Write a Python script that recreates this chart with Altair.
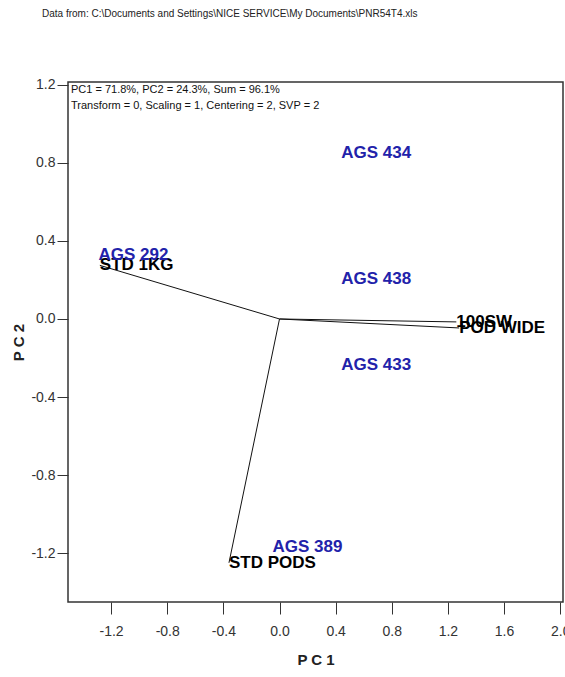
import altair as alt
import pandas as pd

# Genotype scores (blue labels)
genotypes = ["AGS 434", "AGS 438", "AGS 433", "AGS 389", "AGS 292"]
geno_pc1 = [0.44, 0.44, 0.44, -0.05, -1.29]
geno_pc2 = [0.85, 0.205, -0.236, -1.167, 0.328]

# Trait vectors (black labels, drawn from the origin)
traits = ["STD 1KG", "STD PODS", "100SW", "POD WIDE"]
trait_pc1 = [-1.28, -0.36, 1.26, 1.28]
trait_pc2 = [0.275, -1.25, -0.015, -0.046]

x_ticks = [-1.2, -0.8, -0.4, 0.0, 0.4, 0.8, 1.2, 1.6, 2.0]
y_ticks = [-1.2, -0.8, -0.4, 0.0, 0.4, 0.8, 1.2]

source_note = "Data from: C:\\Documents and Settings\\NICE SERVICE\\My Documents\\PNR54T4.xls"
info_lines = [
    "PC1 = 71.8%, PC2 = 24.3%, Sum = 96.1%",
    "Transform = 0, Scaling = 1, Centering = 2, SVP = 2",
]

FONT = "Liberation Sans, Arial, sans-serif"

geno_df = pd.DataFrame({"label": genotypes, "pc1": geno_pc1, "pc2": geno_pc2})
trait_df = pd.DataFrame({"label": traits, "pc1": trait_pc1, "pc2": trait_pc2,
                         "o1": 0.0, "o2": 0.0})

xdom = [-1.507, 2.02]
ydom = [-1.451, 1.215]

label_expr = "(datum.value < 0 ? '-' : '') + format(abs(datum.value), '.1f')"

x_enc = alt.X("pc1:Q", scale=alt.Scale(domain=xdom, nice=False, zero=False),
              axis=alt.Axis(values=x_ticks, labelExpr=label_expr, title="P C 1",
                            grid=False, domain=False, tickSize=12, tickColor="#333",
                            labelFont=FONT, labelFontSize=14, labelColor="#333",
                            labelPadding=10, titleFont=FONT, titleFontSize=15,
                            titleFontWeight="bold", titlePadding=14, titleColor="#222"))
y_enc = alt.Y("pc2:Q", scale=alt.Scale(domain=ydom, nice=False, zero=False),
              axis=alt.Axis(values=y_ticks, labelExpr=label_expr, title="P C 2",
                            grid=False, domain=False, tickSize=11, tickColor="#333",
                            labelFont=FONT, labelFontSize=14, labelColor="#333",
                            labelPadding=2, titleFont=FONT, titleFontSize=15,
                            titleFontWeight="bold", titlePadding=4, titleColor="#222"))

vectors = alt.Chart(trait_df).mark_rule(color="#111", strokeWidth=1).encode(
    x=x_enc, y=y_enc,
    x2="o1:Q", y2="o2:Q",
)

trait_text = alt.Chart(trait_df).mark_text(
    align="left", baseline="middle", font=FONT, fontWeight="bold",
    fontSize=17, color="#000"
).encode(x="pc1:Q", y="pc2:Q", text="label:N")

geno_text = alt.Chart(geno_df).mark_text(
    align="left", baseline="middle", font=FONT, fontWeight="bold",
    fontSize=17, color="#2222aa"
).encode(x="pc1:Q", y="pc2:Q", text="label:N")

# Two-line summary in the top-left corner of the plot frame
info_1 = alt.Chart(pd.DataFrame({"t": [info_lines[0]]})).mark_text(
    align="left", baseline="middle", font=FONT, fontSize=11, color="#111"
).encode(x=alt.value(3), y=alt.value(8), text="t:N")
info_2 = alt.Chart(pd.DataFrame({"t": [info_lines[1]]})).mark_text(
    align="left", baseline="middle", font=FONT, fontSize=11, color="#111"
).encode(x=alt.value(3), y=alt.value(24), text="t:N")

note_text = alt.Chart(pd.DataFrame({"note": [source_note]})).mark_text(
    align="left", baseline="middle", font=FONT, fontSize=10, color="#222"
).encode(x=alt.value(-26), y=alt.value(-68), text="note:N")

chart = alt.layer(vectors, trait_text, geno_text, info_1, info_2, note_text).properties(
    width=495, height=520,
    padding={"left": 68, "top": 82, "right": 2, "bottom": 75},
    autosize=alt.AutoSizeParams(type="none"),
    background="white",
).configure_view(stroke="#333", strokeWidth=1.5)

chart.save("out.html", embed_options={"renderer": "svg", "actions": False})
